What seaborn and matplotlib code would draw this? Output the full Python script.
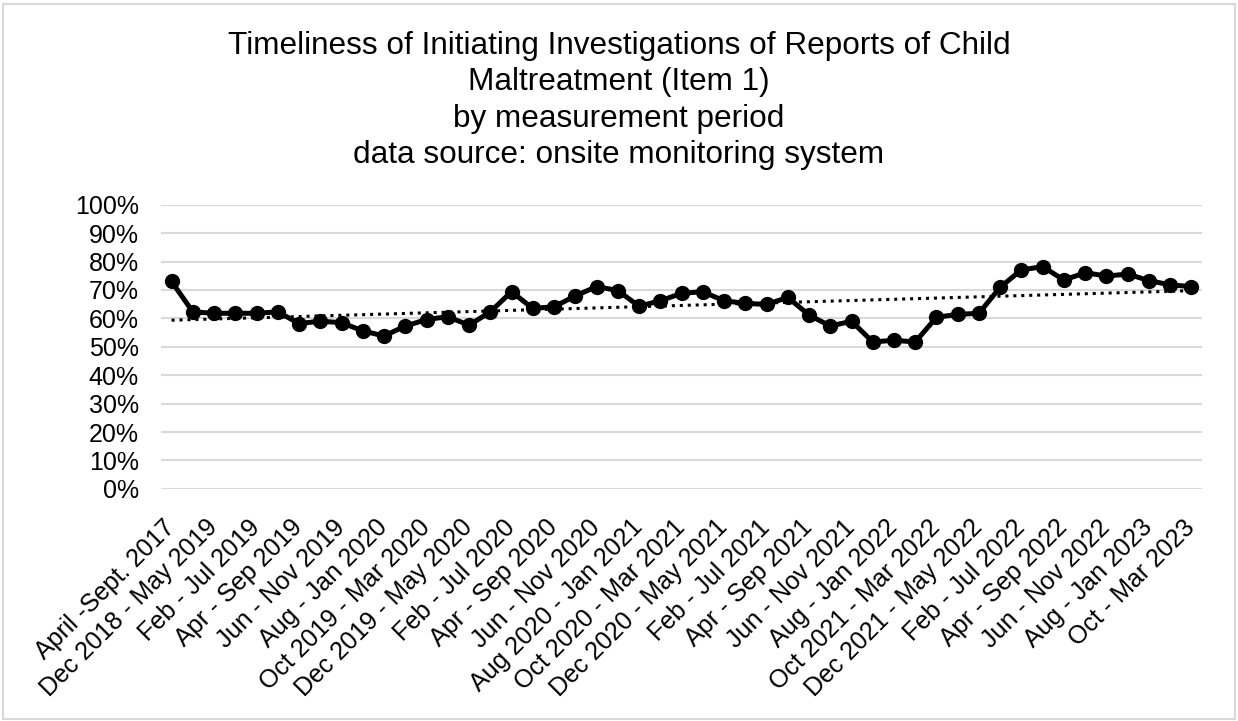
import numpy as np
import pandas as pd
import seaborn as sns
import matplotlib.pyplot as plt
from matplotlib.patches import Rectangle
from matplotlib.ticker import PercentFormatter

# measurement periods (only every other one is labelled on the axis)
tick_labels = [
    "April -Sept. 2017", "Dec 2018 - May 2019", "Feb - Jul 2019", "Apr - Sep 2019",
    "Jun - Nov 2019", "Aug - Jan 2020", "Oct 2019 - Mar 2020", "Dec 2019 - May 2020",
    "Feb - Jul 2020", "Apr - Sep 2020", "Jun - Nov 2020", "Aug 2020 - Jan 2021",
    "Oct 2020 - Mar 2021", "Dec 2020 - May 2021", "Feb - Jul 2021", "Apr - Sep 2021",
    "Jun - Nov 2021", "Aug - Jan 2022", "Oct 2021 - Mar 2022", "Dec 2021 - May 2022",
    "Feb - Jul 2022", "Apr - Sep 2022", "Jun - Nov 2022", "Aug - Jan 2023",
    "Oct - Mar 2023",
]

# percent of investigations initiated timely, one value per period
timeliness = [
    73.0, 62.3, 61.8, 61.8, 61.8, 62.3, 58.2, 59.0, 58.5, 55.6,
    53.8, 57.3, 59.6, 60.6, 57.6, 62.3, 69.4, 63.5, 64.1, 67.9,
    71.2, 69.8, 64.3, 66.2, 68.8, 69.4, 66.2, 65.3, 64.9, 67.4,
    61.2, 57.3, 59.0, 51.7, 52.3, 51.7, 60.4, 61.4, 61.8, 71.0,
    77.1, 78.2, 73.5, 76.1, 74.9, 75.6, 73.3, 71.8, 71.2,
]

df = pd.DataFrame({"period": np.arange(len(timeliness)), "pct": timeliness})

# linear trend line (like Excel's trendline)
slope, intercept = np.polyfit(df["period"], df["pct"], 1)
df["trend"] = intercept + slope * df["period"]

sns.set_style("white")
plt.rcParams["font.family"] = ["Liberation Sans", "DejaVu Sans"]
plt.rcParams["text.color"] = "black"

fig = plt.figure(figsize=(12.38, 7.21), dpi=100)
ax = fig.add_axes([0.130, 0.322, 0.841, 0.394])

sns.lineplot(data=df, x="period", y="trend", ax=ax, color="black",
             linewidth=2.2, linestyle=(0, (1, 1.6)), zorder=3)
sns.lineplot(data=df, x="period", y="pct", ax=ax, color="black",
             linewidth=3.6, marker="o", markersize=11, markeredgewidth=0,
             zorder=4)

ax.set_xlim(-0.5, len(timeliness) - 0.5)
ax.set_ylim(0, 100)
ax.set_yticks(np.arange(0, 101, 10))
ax.yaxis.set_major_formatter(PercentFormatter(decimals=0))
ax.set_xticks(np.arange(0, len(timeliness), 2))
ax.set_xticklabels(tick_labels, rotation=45, ha="right", va="center",
                   rotation_mode="anchor")
ax.tick_params(axis="both", length=0, labelsize=18, colors="black")
ax.tick_params(axis="x", pad=25)
ax.tick_params(axis="y", pad=16)
ax.set_xlabel("")
ax.set_ylabel("")
ax.grid(axis="y", color="#d9d9d9", linewidth=1.5)
ax.set_axisbelow(True)
for s in ax.spines.values():
    s.set_visible(False)

fig.text(0.5, 1 - 31 / 721,
         "Timeliness of Initiating Investigations of Reports of Child\n"
         "Maltreatment (Item 1)\nby measurement period\n"
         "data source: onsite monitoring system",
         ha="center", va="top", fontsize=22.7, linespacing=1.28,
         color="black")

# light border around the whole chart area
fig.add_artist(Rectangle((3 / 1238, 2 / 721), 1 - 6 / 1238, 1 - 6 / 721,
                         transform=fig.transFigure, fill=False,
                         edgecolor="#d9d9d9", linewidth=1.5))

fig.savefig("out.png", dpi=100)
